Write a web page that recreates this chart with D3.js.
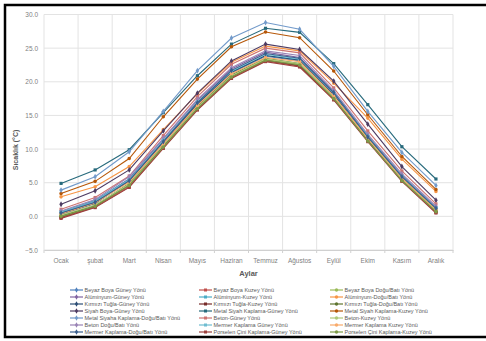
<!DOCTYPE html>
<html>
<head>
<meta charset="utf-8">
<script src="https://cdn.jsdelivr.net/npm/d3@7"></script>
<style>
  body { margin: 0; background: #fff; }
  svg { display: block; font-family: "Liberation Sans", Arial, sans-serif; }
</style>
</head>
<body>
<div id="chart"></div>
<script>
const months = ["Ocak", "şubat", "Mart", "Nisan", "Mayıs", "Haziran", "Temmuz", "Ağustos", "Eylül", "Ekim", "Kasım", "Aralık"];
const yTicks = [-5, 0, 5, 10, 15, 20, 25, 30];

const seriesNames = [
  "Beyaz Boya Güney Yönü", "Beyaz Boya Kuzey Yönü", "Beyaz Boya Doğu/Batı Yönü",
  "Alüminyum-Güney Yönü", "Alüminyum-Kuzey Yönü", "Alüminyum-Doğu/Batı Yönü",
  "Kırmızı Tuğla-Güney Yönü", "Kırmızı Tuğla-Kuzey Yönü", "Kırmızı Tuğla-Doğu/Batı Yönü",
  "Siyah Boya-Güney Yönü", "Metal Siyah Kaplama-Güney Yönü", "Metal Siyah Kaplama-Kuzey Yönü",
  "Metal Siyaha Kaplama-Doğu/Batı Yönü", "Beton-Güney Yönü", "Beton-Kuzey Yönü",
  "Beton Doğu/Batı Yönü", "Mermer Kaplama Güney Yönü", "Mermer Kaplama Kuzey Yönü",
  "Mermer Kaplama-Doğu/Batı Yönü", "Porselen Çini Kaplama-Güney Yönü", "Porselen Çini Kaplama-Kuzey Yönü"
];

const seriesColors = [
  "#4f81bd", "#c0504d", "#9bbb59", "#8064a2", "#4bacc6", "#f79646",
  "#2c4d75", "#772c2a", "#5f7530", "#4d3b62", "#276a7c", "#b65708",
  "#729aca", "#cd7371", "#afc97a", "#9983b5", "#6fbdd1", "#f9ab6b",
  "#3a5e8c", "#9c403d", "#7e9b48"
];

const seriesValues = [
  [0.5, 2.0, 5.2, 11.0, 16.6, 21.3, 23.8, 23.1, 18.0, 11.7, 5.8, 1.1],
  [-0.2, 1.4, 4.4, 10.2, 15.9, 20.6, 23.1, 22.3, 17.4, 11.2, 5.3, 0.6],
  [0.1, 1.6, 4.7, 10.5, 16.1, 20.8, 23.3, 22.6, 17.6, 11.4, 5.5, 0.8],
  [0.6, 2.3, 5.6, 11.5, 17.2, 21.9, 24.4, 23.6, 18.5, 12.0, 6.1, 1.3],
  [0.7, 2.4, 5.5, 11.2, 16.8, 21.5, 23.9, 23.3, 18.3, 11.9, 6.0, 1.3],
  [2.9, 4.4, 7.4, 12.9, 18.2, 22.9, 25.3, 24.6, 19.8, 14.6, 8.5, 3.7],
  [0.3, 1.9, 5.3, 10.9, 16.7, 21.4, 23.9, 23.2, 18.1, 11.6, 5.6, 1.0],
  [-0.1, 1.5, 4.6, 10.4, 16.0, 20.7, 23.2, 22.4, 17.5, 11.3, 5.4, 0.7],
  [0.0, 1.6, 4.9, 10.6, 16.3, 21.0, 23.5, 22.7, 17.7, 11.4, 5.5, 0.8],
  [1.8, 3.8, 6.9, 12.7, 18.3, 23.1, 25.6, 24.8, 20.1, 13.7, 7.4, 2.4],
  [4.9, 6.9, 9.9, 15.4, 20.9, 25.6, 27.95, 27.35, 22.7, 16.6, 10.35, 5.55],
  [3.4, 5.2, 8.6, 14.8, 20.4, 25.2, 27.4, 26.55, 21.6, 15.1, 8.9, 4.0],
  [3.9, 5.9, 9.6, 15.6, 21.65, 26.5, 28.8, 27.8, 22.3, 15.6, 9.5, 4.6],
  [1.05, 2.8, 6.0, 12.0, 17.8, 22.6, 25.0, 24.3, 19.1, 12.7, 6.75, 1.85],
  [0.2, 1.7, 4.8, 10.6, 16.2, 20.9, 23.4, 22.7, 17.7, 11.5, 5.5, 0.9],
  [0.8, 2.5, 5.9, 11.6, 17.4, 22.1, 24.6, 23.9, 18.7, 12.2, 6.3, 1.5],
  [0.6, 2.2, 5.4, 11.3, 17.0, 21.6, 24.1, 23.4, 18.4, 11.9, 5.9, 1.2],
  [0.4, 2.0, 5.1, 10.8, 16.5, 21.2, 23.6, 23.0, 17.9, 11.6, 5.7, 1.0],
  [0.5, 2.1, 5.3, 11.1, 16.9, 21.7, 24.2, 23.5, 18.4, 11.8, 5.9, 1.2],
  [-0.3, 1.3, 4.3, 10.1, 15.8, 20.5, 23.0, 22.2, 17.3, 11.1, 5.2, 0.5],
  [0.0, 1.5, 4.6, 10.3, 16.0, 20.7, 23.2, 22.5, 17.5, 11.2, 5.3, 0.7]
];

const W = 486, H = 341;
const plot = { left: 44, right: 453, top: 14.5, bottom: 250 };

const svg = d3.select("#chart").append("svg")
  .attr("width", W).attr("height", H);

svg.append("rect").attr("width", W).attr("height", H).attr("fill", "#fff");

// outer frame
svg.append("rect")
  .attr("x", 5).attr("y", 5)
  .attr("width", W + 10).attr("height", 332)
  .attr("fill", "none").attr("stroke", "#000").attr("stroke-width", 2.5);

const x = d3.scaleBand().domain(months).range([plot.left, plot.right]);
const y = d3.scaleLinear().domain([-5, 30]).range([plot.bottom, plot.top]);

const grid = svg.append("g");
grid.selectAll("line.h").data(yTicks).join("line")
  .attr("x1", plot.left).attr("x2", plot.right)
  .attr("y1", d => y(d)).attr("y2", d => y(d))
  .attr("stroke", "#e3e3e3").attr("stroke-width", 1);

const bounds = months.map(m => x(m)).concat([plot.right]);
grid.selectAll("line.v").data(bounds).join("line")
  .attr("x1", d => d).attr("x2", d => d)
  .attr("y1", plot.top).attr("y2", plot.bottom)
  .attr("stroke", "#e3e3e3").attr("stroke-width", 1);

// x axis
const xAxis = svg.append("g")
  .attr("transform", `translate(0,${plot.bottom})`)
  .call(d3.axisBottom(x).tickSize(0).tickPadding(8));
xAxis.select(".domain").attr("stroke", "#d0d0d0");
xAxis.selectAll(".tick text").attr("font-size", "6.5px").attr("fill", "#7f7f7f");
svg.append("g").selectAll("line").data(bounds).join("line")
  .attr("x1", d => d).attr("x2", d => d)
  .attr("y1", plot.bottom).attr("y2", plot.bottom + 3)
  .attr("stroke", "#d0d0d0");

// y axis labels
const yAxis = svg.append("g")
  .attr("transform", `translate(${plot.left},0)`)
  .call(d3.axisLeft(y).tickValues(yTicks).tickFormat(d3.format(".1f")).tickSize(0).tickPadding(6));
yAxis.select(".domain").remove();
yAxis.selectAll(".tick text").attr("font-size", "6.5px").attr("fill", "#7f7f7f");

svg.append("text")
  .attr("x", (plot.left + plot.right) / 2).attr("y", 276)
  .attr("text-anchor", "middle").attr("font-size", "7.5px").attr("font-weight", "bold")
  .attr("fill", "#595959").text("Aylar");

svg.append("text")
  .attr("transform", "translate(18,150) rotate(-90)")
  .attr("text-anchor", "middle").attr("font-size", "7px").attr("font-weight", "bold")
  .attr("fill", "#595959").text("Sıcaklık (°C)");

const symbols = [d3.symbolDiamond, d3.symbolSquare, d3.symbolCircle];
const line = d3.line().x((d, i) => x(months[i]) + x.bandwidth() / 2).y(d => y(d));

const series = seriesNames.map((name, i) => ({ name, color: seriesColors[i], values: seriesValues[i], sym: symbols[i % 3] }));

const sg = svg.append("g").selectAll("g").data(series).join("g");
sg.append("path")
  .attr("d", d => line(d.values))
  .attr("fill", "none").attr("stroke", d => d.color).attr("stroke-width", 1.1);
sg.selectAll("path.m").data(d => d.values.map((v, i) => ({ v, i, s: d }))).join("path")
  .attr("class", "m")
  .attr("transform", d => `translate(${x(months[d.i]) + x.bandwidth() / 2},${y(d.v)})`)
  .attr("d", d => d3.symbol(d.s.sym, 10)())
  .attr("fill", d => d.s.color);

// legend
const colX = [70, 199, 330];
const lg = svg.append("g").selectAll("g").data(series).join("g")
  .attr("transform", (d, i) => `translate(${colX[i % 3]},${290 + Math.floor(i / 3) * 7})`);
lg.append("line").attr("x1", 0).attr("x2", 13)
  .attr("stroke", d => d.color).attr("stroke-width", 1.2);
lg.append("path").attr("transform", "translate(6.5,0)")
  .attr("d", d => d3.symbol(d.sym, 9)()).attr("fill", d => d.color);
lg.append("text").attr("x", 14.5).attr("y", 2)
  .attr("font-size", "5.5px").attr("fill", "#595959").text(d => d.name);
</script>
</body>
</html>
